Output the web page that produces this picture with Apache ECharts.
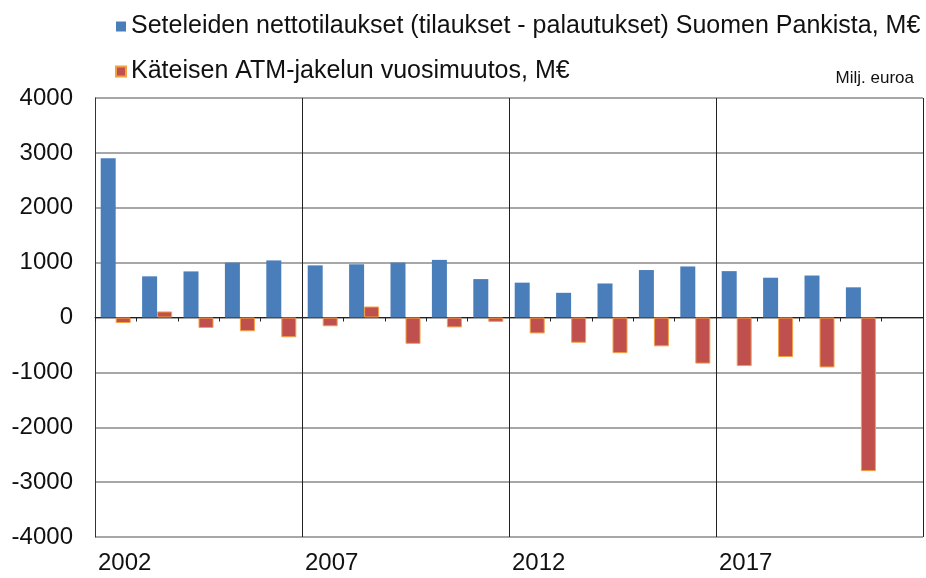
<!DOCTYPE html>
<html><head><meta charset="utf-8">
<script src="https://cdn.jsdelivr.net/npm/echarts@6/dist/echarts.min.js"></script>
<style>html,body{margin:0;padding:0;background:#fff}#c{width:926px;height:578px}</style>
</head><body><div id="c"></div>
<script>
const years = ['2002','2003','2004','2005','2006','2007','2008','2009','2010','2011','2012','2013','2014','2015','2016','2017','2018','2019','2020','2021'];
const netOrders = [2900,750,840,1000,1040,950,970,1000,1050,700,635,450,620,865,930,845,725,765,550,null];
const atmChange = [-100,110,-190,-250,-360,-160,200,-480,-180,-80,-290,-460,-650,-525,-840,-885,-720,-910,-2800,null];
const yTicks = [-4000,-3000,-2000,-1000,0,1000,2000,3000,4000];
const seriesNames = ['Seteleiden nettotilaukset (tilaukset - palautukset) Suomen Pankista, M€','Käteisen ATM-jakelun vuosimuutos, M€'];
const unitLabel = 'Milj. euroa';

const font = 'Liberation Sans, Arial, sans-serif';
const chart = echarts.init(document.getElementById('c'), null, {renderer:'canvas'});
chart.setOption({
  animation:false,
  textStyle:{fontFamily:font},
  legend:{
    orient:'vertical', left:110, top:9, itemWidth:10, itemHeight:10, itemGap:20,
    icon:'rect',
    textStyle:{fontSize:25, color:'#111', fontFamily:font},
    data:seriesNames
  },
  graphic:[{type:'text', right:12, top:70, style:{text:unitLabel, font:'17px '+font, fill:'#111'}}],
  grid:{left:95, right:1, top:98, bottom:41},
  xAxis:[
    {type:'category', data:years, boundaryGap:true,
     axisLine:{onZero:true, lineStyle:{color:'#222', width:1}},
     axisTick:{show:true, interval:0, length:4, lineStyle:{color:'#222'}},
     axisLabel:{show:false}, splitLine:{show:false}},
    {type:'value', min:0, max:years.length, interval:5, position:'bottom',
     axisLine:{show:false, onZero:false}, axisTick:{show:false},
     axisLabel:{show:true, align:'left', margin:14, fontSize:24, color:'#111', fontFamily:font,
       padding:[0,0,0,3],
       formatter:v=> (v < years.length - 1 ? years[v] : '')},
     splitLine:{show:true, lineStyle:{color:'#222', width:1}}}
  ],
  yAxis:{type:'value', min:yTicks[0], max:yTicks[yTicks.length-1], interval:1000,
    axisLine:{show:true, onZero:false, lineStyle:{color:'#333'}},
    axisTick:{show:false},
    axisLabel:{fontSize:24, color:'#111', margin:22, fontFamily:font, formatter:v=>String(v)},
    splitLine:{show:true, lineStyle:{color:'#8a8a8a', width:1.5}}},
  series:[
    {name:seriesNames[0], type:'bar', xAxisIndex:0, data:netOrders, barWidth:15, barGap:'0%',
     itemStyle:{color:'#4a7ebb'}},
    {name:seriesNames[1], type:'bar', xAxisIndex:0, data:atmChange, barWidth:15, barGap:'0%',
     itemStyle:{color:'#c0504d', borderColor:'#f3a040', borderWidth:1}}
  ]
});
</script></body></html>
